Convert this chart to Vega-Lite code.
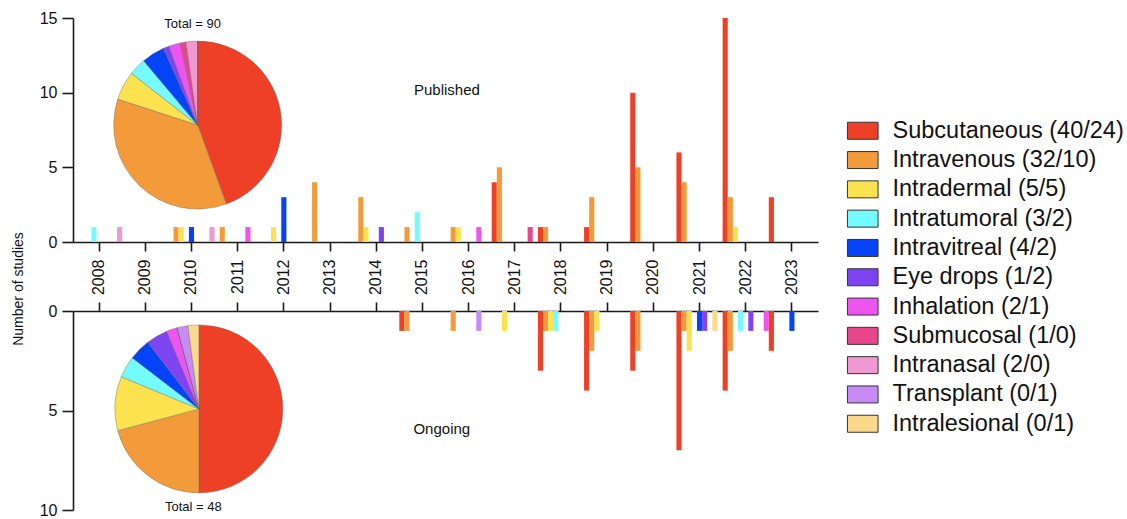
{
  "$schema": "https://vega.github.io/schema/vega-lite/v6.json",
  "background": "white",
  "padding": {"left": 11, "top": 10, "right": 5, "bottom": 5},
  "config": {
    "font": "Liberation Sans",
    "view": {"stroke": null},
    "axis": {"grid": false, "domainColor": "#1a1a1a", "tickColor": "#1a1a1a", "domainWidth": 1.6, "tickWidth": 1.6, "labelFont": "Liberation Sans", "labelFontSize": 16, "labelColor": "#111", "titleFont": "Liberation Sans", "titleFontWeight": "normal", "titleColor": "#111"},
    "legend": {"orient": "none", "legendX": 778, "legendY": 101, "title": null, "padding": 0, "labelFont": "Liberation Sans", "labelFontSize": 23.5, "labelColor": "#111", "labelOffset": 18, "rowPadding": 4.3, "labelLimit": 400, "symbolType": "M-1.8,-1H1.8V1H-1.8Z", "symbolSize": 289, "symbolStrokeColor": "#333", "symbolStrokeWidth": 1, "symbolOpacity": 1}
  },
  "datasets": {
    "published": [
      {"year": "2008", "route": "Intratumoral", "n": 1},
      {"year": "2008", "route": "Intranasal", "n": 1},
      {"year": "2010", "route": "Intravenous", "n": 1},
      {"year": "2010", "route": "Intradermal", "n": 1},
      {"year": "2010", "route": "Intravitreal", "n": 1},
      {"year": "2010", "route": "Intranasal", "n": 1},
      {"year": "2011", "route": "Intravenous", "n": 1},
      {"year": "2011", "route": "Inhalation", "n": 1},
      {"year": "2012", "route": "Intradermal", "n": 1},
      {"year": "2012", "route": "Intravitreal", "n": 3},
      {"year": "2013", "route": "Intravenous", "n": 4},
      {"year": "2014", "route": "Intravenous", "n": 3},
      {"year": "2014", "route": "Intradermal", "n": 1},
      {"year": "2014", "route": "Eye drops", "n": 1},
      {"year": "2015", "route": "Intravenous", "n": 1},
      {"year": "2015", "route": "Intratumoral", "n": 2},
      {"year": "2016", "route": "Intravenous", "n": 1},
      {"year": "2016", "route": "Intradermal", "n": 1},
      {"year": "2016", "route": "Inhalation", "n": 1},
      {"year": "2017", "route": "Subcutaneous", "n": 4},
      {"year": "2017", "route": "Intravenous", "n": 5},
      {"year": "2017", "route": "Submucosal", "n": 1},
      {"year": "2018", "route": "Subcutaneous", "n": 1},
      {"year": "2018", "route": "Intravenous", "n": 1},
      {"year": "2019", "route": "Subcutaneous", "n": 1},
      {"year": "2019", "route": "Intravenous", "n": 3},
      {"year": "2020", "route": "Subcutaneous", "n": 10},
      {"year": "2020", "route": "Intravenous", "n": 5},
      {"year": "2021", "route": "Subcutaneous", "n": 6},
      {"year": "2021", "route": "Intravenous", "n": 4},
      {"year": "2022", "route": "Subcutaneous", "n": 15},
      {"year": "2022", "route": "Intravenous", "n": 3},
      {"year": "2022", "route": "Intradermal", "n": 1},
      {"year": "2023", "route": "Subcutaneous", "n": 3}
    ],
    "ongoing": [
      {"year": "2015", "route": "Subcutaneous", "n": 1},
      {"year": "2015", "route": "Intravenous", "n": 1},
      {"year": "2016", "route": "Intravenous", "n": 1},
      {"year": "2016", "route": "Transplant", "n": 1},
      {"year": "2017", "route": "Intradermal", "n": 1},
      {"year": "2018", "route": "Subcutaneous", "n": 3},
      {"year": "2018", "route": "Intravenous", "n": 1},
      {"year": "2018", "route": "Intradermal", "n": 1},
      {"year": "2018", "route": "Intratumoral", "n": 1},
      {"year": "2019", "route": "Subcutaneous", "n": 4},
      {"year": "2019", "route": "Intravenous", "n": 2},
      {"year": "2019", "route": "Intradermal", "n": 1},
      {"year": "2020", "route": "Subcutaneous", "n": 3},
      {"year": "2020", "route": "Intravenous", "n": 2},
      {"year": "2021", "route": "Subcutaneous", "n": 7},
      {"year": "2021", "route": "Intravenous", "n": 1},
      {"year": "2021", "route": "Intradermal", "n": 2},
      {"year": "2021", "route": "Intravitreal", "n": 1},
      {"year": "2021", "route": "Eye drops", "n": 1},
      {"year": "2021", "route": "Intralesional", "n": 1},
      {"year": "2022", "route": "Subcutaneous", "n": 4},
      {"year": "2022", "route": "Intravenous", "n": 2},
      {"year": "2022", "route": "Intratumoral", "n": 1},
      {"year": "2022", "route": "Eye drops", "n": 1},
      {"year": "2022", "route": "Inhalation", "n": 1},
      {"year": "2023", "route": "Subcutaneous", "n": 2},
      {"year": "2023", "route": "Intravitreal", "n": 1}
    ],
    "routes": [
      {"route": "Subcutaneous", "published": 40, "ongoing": 24},
      {"route": "Intravenous", "published": 32, "ongoing": 10},
      {"route": "Intradermal", "published": 5, "ongoing": 5},
      {"route": "Intratumoral", "published": 3, "ongoing": 2},
      {"route": "Intravitreal", "published": 4, "ongoing": 2},
      {"route": "Eye drops", "published": 1, "ongoing": 2},
      {"route": "Inhalation", "published": 2, "ongoing": 1},
      {"route": "Submucosal", "published": 1, "ongoing": 0},
      {"route": "Intranasal", "published": 2, "ongoing": 0},
      {"route": "Transplant", "published": 0, "ongoing": 1},
      {"route": "Intralesional", "published": 0, "ongoing": 1}
    ]
  },
  "vconcat": [
    {
      "width": 745,
      "height": 224,
      "layer": [
        {
          "data": {"name": "published"},
          "mark": {"type": "bar"},
          "encoding": {
            "x": {"field": "year", "type": "nominal",
              "scale": {"domain": ["2008","2009","2010","2011","2012","2013","2014","2015","2016","2017","2018","2019","2020","2021","2022","2023"], "paddingInner": 0, "paddingOuter": 0.065},
              "axis": {"orient": "bottom", "labelAngle": -90, "tickSize": 9, "labelPadding": 8, "title": null}},
            "xOffset": {"field": "route", "type": "nominal",
              "scale": {"domain": ["Subcutaneous","Intravenous","Intradermal","Intratumoral","Intravitreal","Eye drops","Inhalation","Submucosal","Intranasal"], "paddingInner": 0, "paddingOuter": 0}},
            "y": {"field": "n", "type": "quantitative",
              "scale": {"domain": [0, 15], "nice": false},
              "axis": {"values": [0, 5, 10, 15], "tickSize": 11, "labelPadding": 5, "title": "Number of studies", "titleFontSize": 14, "titleX": -55, "titleY": 270.5, "titleAngle": -90, "titleAlign": "center", "titleBaseline": "middle"}},
            "color": {"field": "route", "type": "nominal",
              "scale": {"domain": ["Subcutaneous","Intravenous","Intradermal","Intratumoral","Intravitreal","Eye drops","Inhalation","Submucosal","Intranasal","Transplant","Intralesional"],
                        "range": ["#EE4026","#F39A3B","#FDE24F","#74FBFD","#0543F7","#7F44F2","#EE55F0","#E8468A","#F098D2","#C88AF5","#FBD88A"]},
              "legend": {"labelExpr": "{'Subcutaneous':'Subcutaneous (40/24)','Intravenous':'Intravenous (32/10)','Intradermal':'Intradermal (5/5)','Intratumoral':'Intratumoral (3/2)','Intravitreal':'Intravitreal (4/2)','Eye drops':'Eye drops (1/2)','Inhalation':'Inhalation (2/1)','Submucosal':'Submucosal (1/0)','Intranasal':'Intranasal (2/0)','Transplant':'Transplant (0/1)','Intralesional':'Intralesional (0/1)'}[datum.label]"}}
          }
        },
        {
          "data": {"name": "routes"},
          "transform": [{"window": [{"op": "row_number", "as": "rank"}]}],
          "mark": {"type": "arc", "outerRadius": 84, "stroke": "#666", "strokeWidth": 0.4},
          "encoding": {
            "x": {"datum": "2010", "bandPosition": 0.634},
            "y": {"datum": 7.83},
            "theta": {"field": "published", "type": "quantitative"},
            "order": {"field": "rank", "type": "quantitative"},
            "color": {"field": "route", "type": "nominal", "legend": null}
          }
        },
        {
          "data": {"values": [{"label": "Total = 90"}]},
          "mark": {"type": "text", "fontSize": 13, "color": "#111", "align": "center", "baseline": "middle"},
          "encoding": {
            "x": {"datum": "2010", "bandPosition": 0.526},
            "y": {"datum": 14.6},
            "text": {"field": "label"}
          }
        },
        {
          "data": {"values": [{"label": "Published"}]},
          "mark": {"type": "text", "fontSize": 15, "color": "#111", "align": "center", "baseline": "middle"},
          "encoding": {
            "x": {"datum": "2016", "bandPosition": 0.03},
            "y": {"datum": 10.18},
            "text": {"field": "label"}
          }
        }
      ]
    },
    {
      "width": 745,
      "height": 199,
      "layer": [
        {
          "data": {"name": "ongoing"},
          "mark": {"type": "bar"},
          "encoding": {
            "x": {"field": "year", "type": "nominal",
              "scale": {"domain": ["2008","2009","2010","2011","2012","2013","2014","2015","2016","2017","2018","2019","2020","2021","2022","2023"], "paddingInner": 0, "paddingOuter": 0.065},
              "axis": {"orient": "top", "labels": false, "tickSize": 9, "title": null}},
            "xOffset": {"field": "route", "type": "nominal",
              "scale": {"domain": ["Subcutaneous","Intravenous","Intradermal","Intratumoral","Intravitreal","Eye drops","Transplant","Intralesional","Inhalation"], "paddingInner": 0, "paddingOuter": 0}},
            "y": {"field": "n", "type": "quantitative",
              "scale": {"domain": [0, 10], "nice": false, "reverse": true},
              "axis": {"values": [0, 5, 10], "tickSize": 11, "labelPadding": 5, "title": null}},
            "color": {"field": "route", "type": "nominal",
              "legend": {"labelExpr": "{'Subcutaneous':'Subcutaneous (40/24)','Intravenous':'Intravenous (32/10)','Intradermal':'Intradermal (5/5)','Intratumoral':'Intratumoral (3/2)','Intravitreal':'Intravitreal (4/2)','Eye drops':'Eye drops (1/2)','Inhalation':'Inhalation (2/1)','Submucosal':'Submucosal (1/0)','Intranasal':'Intranasal (2/0)','Transplant':'Transplant (0/1)','Intralesional':'Intralesional (0/1)'}[datum.label]"}}
          }
        },
        {
          "data": {"name": "routes"},
          "transform": [{"window": [{"op": "row_number", "as": "rank"}]}],
          "mark": {"type": "arc", "outerRadius": 84, "stroke": "#666", "strokeWidth": 0.4},
          "encoding": {
            "x": {"datum": "2010", "bandPosition": 0.66},
            "y": {"datum": 4.92},
            "theta": {"field": "ongoing", "type": "quantitative"},
            "order": {"field": "rank", "type": "quantitative"},
            "color": {"field": "route", "type": "nominal", "legend": null}
          }
        },
        {
          "data": {"values": [{"label": "Total = 48"}]},
          "mark": {"type": "text", "fontSize": 13, "color": "#111", "align": "center", "baseline": "middle"},
          "encoding": {
            "x": {"datum": "2010", "bandPosition": 0.54},
            "y": {"datum": 9.85},
            "text": {"field": "label"}
          }
        },
        {
          "data": {"values": [{"label": "Ongoing"}]},
          "mark": {"type": "text", "fontSize": 15, "color": "#111", "align": "center", "baseline": "middle"},
          "encoding": {
            "x": {"datum": "2015", "bandPosition": 0.92},
            "y": {"datum": 5.93},
            "text": {"field": "label"}
          }
        }
      ]
    }
  ],
  "spacing": 69,
  "bounds": "flush",
  "resolve": {"scale": {"xOffset": "independent"}}
}
